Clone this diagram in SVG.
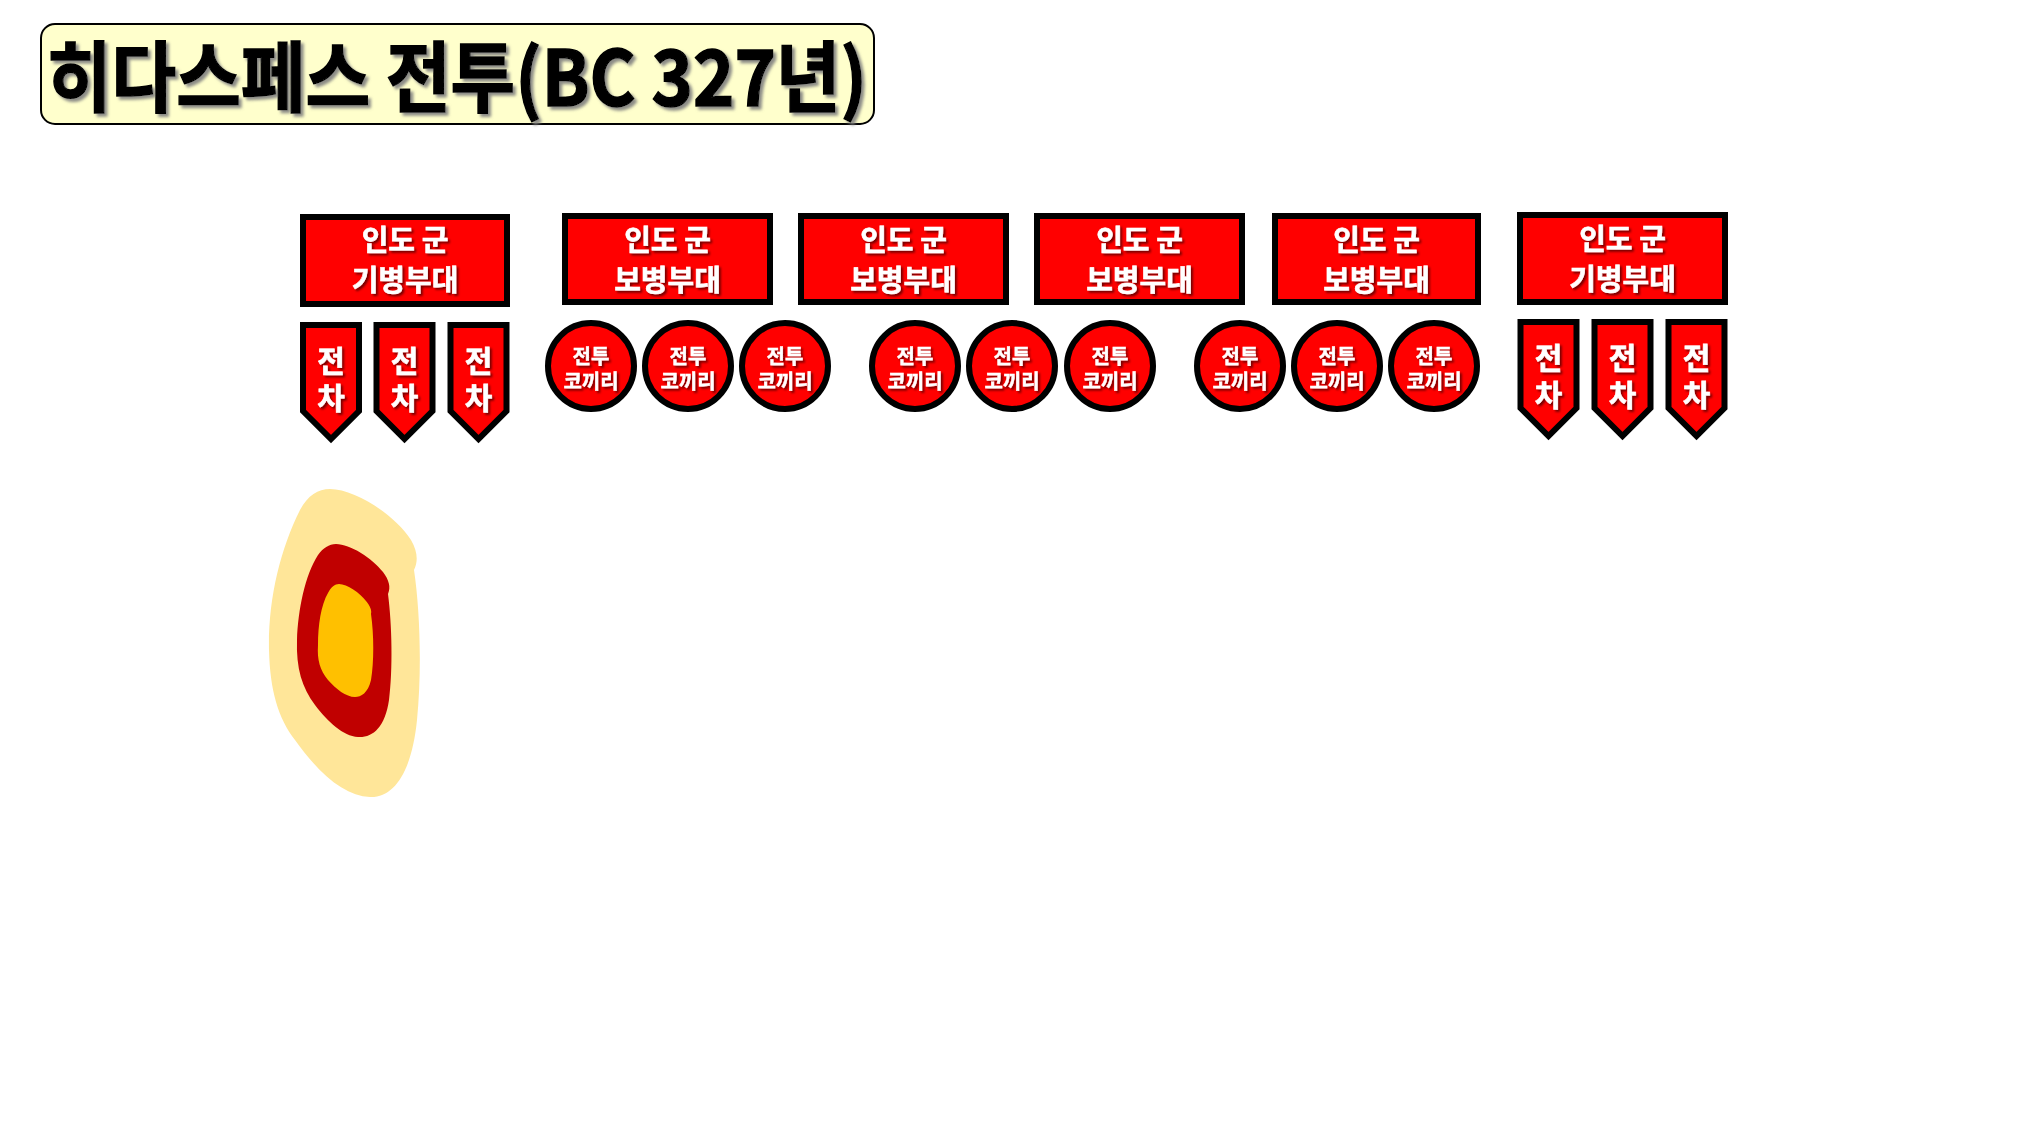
<svg xmlns="http://www.w3.org/2000/svg" width="2019" height="1129" viewBox="0 0 2019 1129">
<defs>
<filter id="tsh" x="-10%" y="-20%" width="120%" height="150%">
<feDropShadow dx="3" dy="3" stdDeviation="1.5" flood-color="#7f7f7f" flood-opacity="0.9"/>
</filter>
<filter id="wsh" x="-10%" y="-20%" width="130%" height="150%">
<feDropShadow dx="2" dy="2" stdDeviation="1" flood-color="#000000" flood-opacity="0.55"/>
</filter>
<path id="pen" d="M-28,0 H28 V86 L0,114 L-28,86 Z"/>
</defs>
<style>
text{font-family:"Noto Sans CJK KR","Noto Sans",sans-serif;font-weight:bold;text-anchor:middle}
.box{fill:#FF0000;stroke:#000;stroke-width:6}
.pen{fill:#FF0000;stroke:#000;stroke-width:6;stroke-linejoin:miter}
.cir{fill:#FF0000;stroke:#000;stroke-width:6}
.bt{fill:#fff;stroke:#fff;stroke-width:0.6;font-size:29px;filter:url(#wsh)}
.pt{fill:#fff;stroke:#fff;stroke-width:0.6;font-size:30px;filter:url(#wsh)}
.ct{fill:#fff;stroke:#fff;stroke-width:0.4;font-size:20px;filter:url(#wsh)}
</style>
<rect width="2019" height="1129" fill="#ffffff"/>

<g id="title">
<rect x="41" y="24" width="833" height="100" rx="14" ry="14" fill="#FFFFCC" stroke="#000" stroke-width="2"/>
<text x="457" y="106" font-size="77" fill="#000" stroke="#000" stroke-width="1.5" textLength="820" lengthAdjust="spacingAndGlyphs" filter="url(#tsh)">히다스페스 전투(BC 327년)</text>
</g>

<g id="cav-left">
<rect class="box" x="303" y="217" width="204" height="87"/>
<text class="bt" x="405" y="251">인도 군</text>
<text class="bt" x="405" y="291">기병부대</text>
</g>
<g id="inf-1">
<rect class="box" x="565" y="216" width="205" height="86"/>
<text class="bt" x="667.5" y="251">인도 군</text>
<text class="bt" x="667.5" y="291">보병부대</text>
</g>
<g id="inf-2">
<rect class="box" x="801" y="216" width="205" height="86"/>
<text class="bt" x="903.5" y="251">인도 군</text>
<text class="bt" x="903.5" y="291">보병부대</text>
</g>
<g id="inf-3">
<rect class="box" x="1037" y="216" width="205" height="86"/>
<text class="bt" x="1139.5" y="251">인도 군</text>
<text class="bt" x="1139.5" y="291">보병부대</text>
</g>
<g id="inf-4">
<rect class="box" x="1275" y="216" width="203" height="86"/>
<text class="bt" x="1376.5" y="251">인도 군</text>
<text class="bt" x="1376.5" y="291">보병부대</text>
</g>
<g id="cav-right">
<rect class="box" x="1520" y="215" width="205" height="87"/>
<text class="bt" x="1622.5" y="250">인도 군</text>
<text class="bt" x="1622.5" y="290">기병부대</text>
</g>

<g id="chariot-l1">
<use href="#pen" class="pen" x="331" y="325"/>
<text class="pt" x="331 331" y="372 409">전차</text>
</g>
<g id="chariot-l2">
<use href="#pen" class="pen" x="404.5" y="325"/>
<text class="pt" x="404.5 404.5" y="372 409">전차</text>
</g>
<g id="chariot-l3">
<use href="#pen" class="pen" x="478.5" y="325"/>
<text class="pt" x="478.5 478.5" y="372 409">전차</text>
</g>
<g id="chariot-r1">
<use href="#pen" class="pen" x="1548.5" y="322"/>
<text class="pt" x="1548.5 1548.5" y="369 406">전차</text>
</g>
<g id="chariot-r2">
<use href="#pen" class="pen" x="1622.5" y="322"/>
<text class="pt" x="1622.5 1622.5" y="369 406">전차</text>
</g>
<g id="chariot-r3">
<use href="#pen" class="pen" x="1696.5" y="322"/>
<text class="pt" x="1696.5 1696.5" y="369 406">전차</text>
</g>

<g id="elephant-1"><circle class="cir" cx="591" cy="366" r="43"/><text class="ct" x="591" y="364">전투</text><text class="ct" x="591" y="389">코끼리</text></g>
<g id="elephant-2"><circle class="cir" cx="688" cy="366" r="43"/><text class="ct" x="688" y="364">전투</text><text class="ct" x="688" y="389">코끼리</text></g>
<g id="elephant-3"><circle class="cir" cx="785" cy="366" r="43"/><text class="ct" x="785" y="364">전투</text><text class="ct" x="785" y="389">코끼리</text></g>
<g id="elephant-4"><circle class="cir" cx="915" cy="366" r="43"/><text class="ct" x="915" y="364">전투</text><text class="ct" x="915" y="389">코끼리</text></g>
<g id="elephant-5"><circle class="cir" cx="1012" cy="366" r="43"/><text class="ct" x="1012" y="364">전투</text><text class="ct" x="1012" y="389">코끼리</text></g>
<g id="elephant-6"><circle class="cir" cx="1110" cy="366" r="43"/><text class="ct" x="1110" y="364">전투</text><text class="ct" x="1110" y="389">코끼리</text></g>
<g id="elephant-7"><circle class="cir" cx="1240" cy="366" r="43"/><text class="ct" x="1240" y="364">전투</text><text class="ct" x="1240" y="389">코끼리</text></g>
<g id="elephant-8"><circle class="cir" cx="1337" cy="366" r="43"/><text class="ct" x="1337" y="364">전투</text><text class="ct" x="1337" y="389">코끼리</text></g>
<g id="elephant-9"><circle class="cir" cx="1434" cy="366" r="43"/><text class="ct" x="1434" y="364">전투</text><text class="ct" x="1434" y="389">코끼리</text></g>

<g id="blob">
<path fill="#FFE699" d="M330,489 C355,489 395,515 411,540 C418,552 418,562 414,570 C420,610 422,670 417,720 C412,770 395,798 370,797 C345,796 320,775 295,740 C278,718 270,690 269,650 C268,600 280,550 300,510 C308,495 318,489 330,489 Z"/>
<path fill="#C00000" d="M336,544 C350,544 372,558 383,572 C389,580 391,587 388,594 C392,625 393,670 389,700 C385,728 372,738 358,737 C343,736 328,722 315,705 C302,688 296,668 297,640 C298,610 305,575 318,555 C323,548 329,544 336,544 Z"/>
<path fill="#FFC000" d="M339,584 C347,584 360,593 366,601 C370,606 372,610 371,614 C374,635 374,662 371,680 C368,693 361,697 355,697 C346,697 336,689 328,680 C320,670 317,660 318,645 C318,625 321,605 328,593 C331,587 335,584 339,584 Z"/>
</g>
</svg>
